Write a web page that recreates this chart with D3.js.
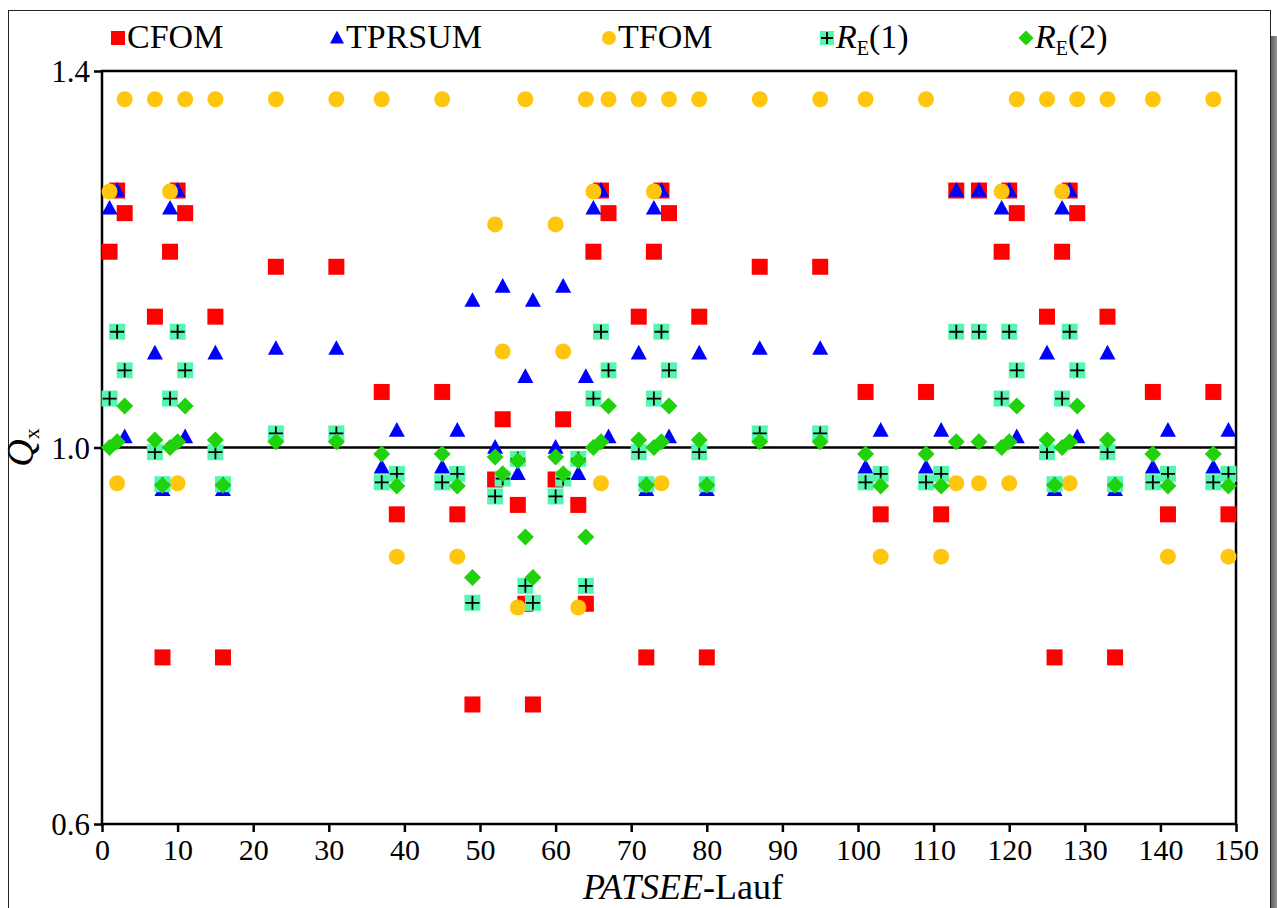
<!DOCTYPE html>
<html>
<head>
<meta charset="utf-8">
<script src="https://cdn.jsdelivr.net/npm/d3@7"></script>
<style>
  body { margin: 0; background: #fff; }
  svg { display: block; }
  text { font-family: "Liberation Serif", "Times New Roman", serif; fill: #000; }
</style>
</head>
<body>
<div id="chart"></div>
<script>
// PATSEE run number vs. Q_x, one array per series: [run, value]
const xTicks = [0, 10, 20, 30, 40, 50, 60, 70, 80, 90, 100, 110, 120, 130, 140, 150];
const yTicks = [0.6, 1.0, 1.4];

const cfom = [
  [1,1.208],[2,1.273],[3,1.249],[7,1.139],[8,0.777],[9,1.208],[10,1.273],[11,1.249],[15,1.139],[16,0.777],[23,1.192],[31,1.192],
  [37,1.059],[39,0.929],[45,1.059],[47,0.929],[49,0.727],[52,0.966],[53,1.030],[55,0.939],[56,0.834],[57,0.727],[60,0.966],[61,1.030],[63,0.939],[64,0.834],
  [65,1.208],[66,1.273],[67,1.249],[71,1.139],[72,0.777],[73,1.208],[74,1.273],[75,1.249],[79,1.139],[80,0.777],[87,1.192],[95,1.192],
  [101,1.059],[103,0.929],[109,1.059],[111,0.929],[113,1.273],[116,1.273],[119,1.208],[120,1.273],[121,1.249],[125,1.139],[126,0.777],
  [127,1.208],[128,1.273],[129,1.249],[133,1.139],[134,0.777],[139,1.059],[141,0.929],[147,1.059],[149,0.929]
];
const tprsum = [
  [1,1.254],[2,1.273],[3,1.011],[7,1.100],[8,0.955],[9,1.254],[10,1.273],[11,1.011],[15,1.100],[16,0.955],[23,1.105],[31,1.105],
  [37,0.979],[39,1.018],[45,0.979],[47,1.018],[49,1.156],[52,1.000],[53,1.171],[55,0.972],[56,1.075],[57,1.156],[60,1.000],[61,1.171],[63,0.972],[64,1.075],
  [65,1.254],[66,1.273],[67,1.011],[71,1.100],[72,0.955],[73,1.254],[74,1.273],[75,1.011],[79,1.100],[80,0.955],[87,1.105],[95,1.105],
  [101,0.979],[103,1.018],[109,0.979],[111,1.018],[113,1.273],[116,1.273],[119,1.254],[120,1.273],[121,1.011],[125,1.100],[126,0.955],
  [127,1.254],[128,1.273],[129,1.011],[133,1.100],[134,0.955],[139,0.979],[141,1.018],[147,0.979],[149,1.018]
];
const tfom = [
  [1,1.272],[2,0.962],[3,1.370],[7,1.370],[9,1.272],[10,0.962],[11,1.370],[15,1.370],[23,1.370],[31,1.370],
  [37,1.370],[39,0.884],[45,1.370],[47,0.884],[52,1.237],[53,1.102],[55,0.830],[56,1.370],[60,1.237],[61,1.102],[63,0.830],[64,1.370],
  [65,1.272],[66,0.962],[67,1.370],[71,1.370],[73,1.272],[74,0.962],[75,1.370],[79,1.370],[87,1.370],[95,1.370],
  [101,1.370],[103,0.884],[109,1.370],[111,0.884],[113,0.962],[116,0.962],[119,1.272],[120,0.962],[121,1.370],[125,1.370],
  [127,1.272],[128,0.962],[129,1.370],[133,1.370],[139,1.370],[141,0.884],[147,1.370],[149,0.884]
];
const re1 = [
  [1,1.052],[2,1.123],[3,1.082],[7,0.995],[8,0.961],[9,1.052],[10,1.123],[11,1.082],[15,0.995],[16,0.961],[23,1.015],[31,1.015],
  [37,0.963],[39,0.972],[45,0.963],[47,0.972],[49,0.835],[52,0.948],[53,0.967],[55,0.988],[56,0.853],[57,0.835],[60,0.948],[61,0.967],[63,0.988],[64,0.853],
  [65,1.052],[66,1.123],[67,1.082],[71,0.995],[72,0.961],[73,1.052],[74,1.123],[75,1.082],[79,0.995],[80,0.961],[87,1.015],[95,1.015],
  [101,0.963],[103,0.972],[109,0.963],[111,0.972],[113,1.123],[116,1.123],[119,1.052],[120,1.123],[121,1.082],[125,0.995],[126,0.961],
  [127,1.052],[128,1.123],[129,1.082],[133,0.995],[134,0.961],[139,0.963],[141,0.972],[147,0.963],[149,0.972]
];
const re2 = [
  [1,1.000],[2,1.006],[3,1.044],[7,1.008],[8,0.960],[9,1.000],[10,1.006],[11,1.044],[15,1.008],[16,0.960],[23,1.006],[31,1.006],
  [37,0.993],[39,0.959],[45,0.993],[47,0.959],[49,0.862],[52,0.990],[53,0.972],[55,0.986],[56,0.905],[57,0.862],[60,0.990],[61,0.972],[63,0.986],[64,0.905],
  [65,1.000],[66,1.006],[67,1.044],[71,1.008],[72,0.960],[73,1.000],[74,1.006],[75,1.044],[79,1.008],[80,0.960],[87,1.006],[95,1.006],
  [101,0.993],[103,0.959],[109,0.993],[111,0.959],[113,1.006],[116,1.006],[119,1.000],[120,1.006],[121,1.044],[125,1.008],[126,0.960],
  [127,1.000],[128,1.006],[129,1.044],[133,1.008],[134,0.960],[139,0.993],[141,0.959],[147,0.993],[149,0.959]
];

const width = 1277;
const height = 908;
const marginTop = 71;
const marginRight = 41;
const marginBottom = 84;
const marginLeft = 102;

const svg = d3.select("#chart")
  .append("svg")
  .attr("width", width)
  .attr("height", height);

// page frame + shadow
const grad = svg.append("defs").append("linearGradient")
  .attr("id", "shadow").attr("x1", 0).attr("x2", 1).attr("y1", 0).attr("y2", 0);
grad.append("stop").attr("offset", "0%").attr("stop-color", "#5e5e5e");
grad.append("stop").attr("offset", "100%").attr("stop-color", "#a0a0a0");
svg.append("rect")
  .attr("x", 1271).attr("y", 36).attr("width", 7).attr("height", height)
  .attr("fill", "url(#shadow)");
svg.append("rect")
  .attr("x", 8.5).attr("y", 10.5).attr("width", 1262).attr("height", height + 20)
  .attr("fill", "#fff").attr("stroke", "#222").attr("stroke-width", 1);

const x = d3.scaleLinear()
  .domain([0, 150])
  .range([marginLeft, width - marginRight]);

const y = d3.scaleLinear()
  .domain([0.6, 1.4])
  .range([height - marginBottom, marginTop]);

// axes
const xAxis = svg.append("g")
  .attr("transform", `translate(0,${height - marginBottom})`)
  .call(d3.axisBottom(x).tickValues(xTicks).tickSize(8).tickSizeOuter(0).tickPadding(7));
const yAxis = svg.append("g")
  .attr("transform", `translate(${marginLeft},0)`)
  .call(d3.axisLeft(y).tickValues(yTicks).tickFormat(d3.format(".1f")).tickSize(8).tickSizeOuter(0).tickPadding(4));

[xAxis, yAxis].forEach(g => {
  g.attr("font-family", "Liberation Serif");
  g.select(".domain").remove();
  g.selectAll(".tick line").attr("stroke", "#000").attr("stroke-width", 2.5);
  g.selectAll("text")
    .attr("font-family", "Liberation Serif")
    .style("font-family", "'Liberation Serif', serif")
    .attr("fill", "#000");
});
xAxis.attr("font-size", 30).selectAll("text").style("font-size", "30px");
yAxis.attr("font-size", 31).selectAll("text").style("font-size", "31px").attr("dy", "0.34em");

// reference line at 1.0
svg.append("line")
  .attr("x1", x(0)).attr("x2", x(150))
  .attr("y1", y(1.0)).attr("y2", y(1.0))
  .attr("stroke", "#000").attr("stroke-width", 2.5);

// plot frame
svg.append("rect")
  .attr("x", x(0)).attr("y", y(1.4))
  .attr("width", x(150) - x(0)).attr("height", y(0.6) - y(1.4))
  .attr("fill", "none").attr("stroke", "#000").attr("stroke-width", 2.5);

// marker painters
const sq = 16;
function drawSquare(g, cx, cy, s) {
  g.append("rect").attr("x", cx - s / 2).attr("y", cy - s / 2)
    .attr("width", s).attr("height", s).attr("fill", "#ff0000");
}
function drawTriangle(g, cx, cy, s) {
  const h = s * 0.92;
  g.append("path")
    .attr("d", `M${cx},${cy - h * 0.58}L${cx + s / 2},${cy + h * 0.42}L${cx - s / 2},${cy + h * 0.42}Z`)
    .attr("fill", "#0000ff");
}
function drawCircle(g, cx, cy, s) {
  g.append("circle").attr("cx", cx).attr("cy", cy).attr("r", s / 2).attr("fill", "#ffc60f");
}
function drawPlus(g, cx, cy, s) {
  g.append("rect").attr("x", cx - s / 2).attr("y", cy - s / 2)
    .attr("width", s).attr("height", s).attr("fill", "#55f7b0");
  g.append("path")
    .attr("d", `M${cx - s / 2 + 1},${cy}H${cx + s / 2 - 1}M${cx},${cy - s / 2 + 1}V${cy + s / 2 - 1}`)
    .attr("stroke", "#000").attr("stroke-width", 1.8);
}
function drawDiamond(g, cx, cy, s) {
  const r = s / 2 + 0.5;
  g.append("path")
    .attr("d", `M${cx},${cy - r}L${cx + r},${cy}L${cx},${cy + r}L${cx - r},${cy}Z`)
    .attr("fill", "#1fd20c");
}

const series = [
  { name: "CFOM", data: cfom, draw: drawSquare },
  { name: "TPRSUM", data: tprsum, draw: drawTriangle },
  { name: "TFOM", data: tfom, draw: drawCircle },
  { name: "RE1", data: re1, draw: drawPlus },
  { name: "RE2", data: re2, draw: drawDiamond }
];

series.forEach(s => {
  const g = svg.append("g").attr("class", "series-" + s.name);
  s.data.forEach(d => s.draw(g, x(d[0]), y(d[1]), sq));
});

// legend
const legend = svg.append("g").attr("class", "legend");
const legendItems = [
  { key: "CFOM", mx: 118, draw: drawSquare },
  { key: "TPRSUM", mx: 337, draw: drawTriangle },
  { key: "TFOM", mx: 609, draw: drawCircle },
  { key: "RE1", mx: 827, draw: drawPlus, sub: "E", tail: "(1)" },
  { key: "RE2", mx: 1026, draw: drawDiamond, sub: "E", tail: "(2)" }
];
legendItems.forEach(it => {
  it.draw(legend, it.mx, 38, 14);
  const t = legend.append("text")
    .attr("x", it.mx + 9).attr("y", 48)
    .style("font-size", "34px");
  if (it.sub) {
    t.append("tspan").style("font-style", "italic").text("R");
    t.append("tspan").attr("dy", 7).style("font-size", "20px").text(it.sub);
    t.append("tspan").attr("dy", -7).text(it.tail);
  } else {
    t.text(it.key);
  }
});

// axis titles
const xt = svg.append("text")
  .attr("x", 683).attr("y", 899)
  .attr("text-anchor", "middle")
  .style("font-size", "36px");
xt.append("tspan").style("font-style", "italic").text("PATSEE");
xt.append("tspan").text("-Lauf");

const yt = svg.append("text")
  .attr("transform", `translate(33,${y(1.0)}) rotate(-90)`)
  .attr("text-anchor", "middle")
  .style("font-size", "38px");
yt.append("tspan").style("font-style", "italic").text("Q");
yt.append("tspan").attr("dy", 6).style("font-size", "22px").text("x");
</script>
</body>
</html>
